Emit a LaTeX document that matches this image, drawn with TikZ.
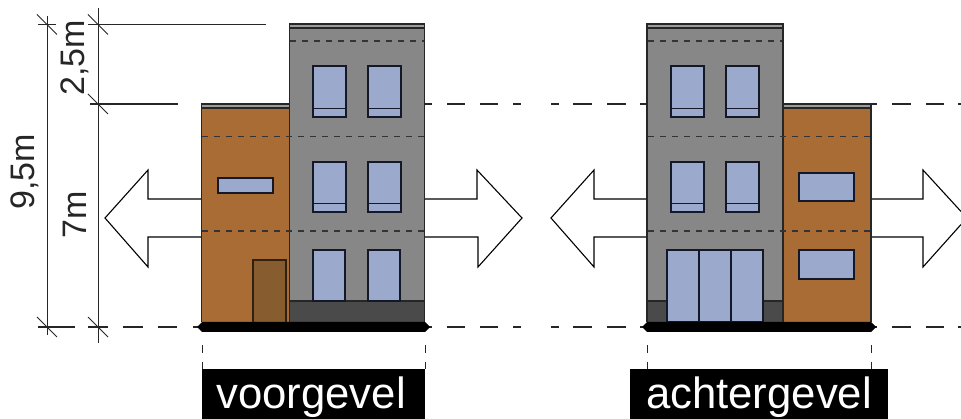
\documentclass[tikz,border=0pt]{standalone}
\usepackage{fontspec}
\setmainfont{Liberation Sans}
\definecolor{wallgray}{HTML}{878787}
\definecolor{wallbrown}{HTML}{A86C34}
\definecolor{glass}{HTML}{9AA9CC}
\definecolor{basegray}{HTML}{4A4A4A}
\definecolor{doorbrown}{HTML}{875C2F}
\definecolor{capgray}{HTML}{9C9C9C}
\definecolor{inkblue}{HTML}{141828}
\tikzset{
  wall/.style={draw=black!85,line width=1.1pt},
  pane/.style={draw=inkblue,line width=1.3pt,fill=glass},
  floorline/.style={black!80,line width=1.1pt,dash pattern=on 5.5pt off 6.5pt},
  dimline/.style={black!85,line width=0.9pt},
  axisline/.style={black!85,line width=1.3pt},
  outline/.style={black,line width=1.1pt,line join=miter},
  labelbox/.style={fill=black,text=white,inner sep=0pt,font=\fontsize{43.7}{50}\selectfont,anchor=base},
  dimtext/.style={rotate=90,inner sep=0pt,font=\fontsize{34}{40}\selectfont,text=black!85},
}
\newcommand{\rowpane}[4]{% x1,x2,ytop,ybottom
  \draw[pane] (#1,#3) rectangle (#2,#4);
  \draw[inkblue,line width=1.1pt] (#1,#4-8.5) -- (#2,#4-8.5);
}
\newcommand{\groundbar}[2]{%
  \fill[black] (#1-5,327) -- (#1,322) -- (#2,322) -- (#2+5,327) -- (#2,332) -- (#1,332) -- cycle;
}
\begin{document}
\begin{tikzpicture}[x=1pt,y=-1pt]
\useasboundingbox (0,0) rectangle (961,419);
\fill[white] (0,0) rectangle (961,419);

% axis dashes
\foreach \a/\b in {425/432,447/465,480/498,513/521,551/559,573/592,607/626,640/647,870/877,892/911,926/944,958/961}
  \draw[axisline] (\a,104) -- (\b,104);
\foreach \a/\b in {38/75,88/108,123/143,158/177,193/201,425/432,447/465,480/498,513/521,551/559,573/592,607/626,640/647,870/877,892/911,926/944,958/961}
  \draw[axisline] (\a,327) -- (\b,327);

% dimension lines
\draw[dimline] (47,16) -- (47,335);
\draw[dimline] (98,8) -- (98,343);
\draw[axisline,line width=1.1pt] (38,24.5) -- (56,24.5);
\draw[axisline,line width=1.1pt] (88,24.5) -- (266,24.5);
\draw[axisline,line width=1.1pt] (90,104) -- (178,104);
\foreach \p/\q in {47/24.5,98/24.5,98/104,47/327,98/327}
  \draw[dimline] (\p-10,\q-10) -- (\p+10,\q+10);
\node[dimtext] (d1) at (25,172) {9,5m};
\node[dimtext] (d2) at (75,58) {2,5m};
\node[dimtext] (d3) at (75,215) {7m};

% arrows
\draw[outline] (201.5,199) -- (148,199) -- (148,170) -- (105,218) -- (148,267) -- (148,237) -- (201.5,237);
\draw[outline] (424.5,199) -- (477,199) -- (477,170) -- (522,218) -- (478,267) -- (478,237) -- (424.5,237);
\draw[outline] (647,199) -- (594,199) -- (594,170) -- (551,218) -- (594,267) -- (594,237) -- (647,237);
\draw[outline] (871,199) -- (923,199) -- (923,170) -- (961,211.5);
\draw[outline] (871,237) -- (923,237) -- (923,267) -- (961,224.5);

% left building
\fill[wallbrown] (201.5,108) rectangle (289.5,322);
\fill[capgray] (201.5,104) rectangle (289.5,108);
\fill[wallgray] (289.5,28) rectangle (424.5,322);
\fill[capgray] (289.5,24) rectangle (424.5,28);
\fill[basegray] (289.5,301) rectangle (424.5,322);
\draw[wall] (201.5,322) -- (201.5,104) -- (289.5,104);
\draw[wall] (201.5,108) -- (289.5,108);
\draw[wall] (289.5,322) -- (289.5,24) -- (424.5,24) -- (424.5,322);
\draw[wall,line width=1.3pt] (289.5,28) -- (424.5,28);
\draw[wall] (289.5,301) -- (424.5,301);
\draw[floorline] (290,41) -- (424,41);
\draw[floorline] (202,136.5) -- (424,136.5);
\draw[floorline] (202,231) -- (424,231);
\rowpane{313}{346}{66}{117}\rowpane{368}{401}{66}{117}
\rowpane{313}{346}{162}{212}\rowpane{368}{401}{162}{212}
\draw[pane] (313,250) -- (313,301) -- (345,301) -- (345,250) -- cycle;
\draw[pane] (368,250) -- (368,301) -- (400,301) -- (400,250) -- cycle;
\draw[pane] (218,178) rectangle (273,193);
\draw[draw=black!75!brown,line width=1.3pt,fill=doorbrown] (253,322) -- (253,260) -- (286,260) -- (286,322);
\groundbar{202}{425}

% right building
\fill[wallgray] (647,28) rectangle (783,322);
\fill[capgray] (647,24) rectangle (783,28);
\fill[wallbrown] (783,108) rectangle (871,322);
\fill[capgray] (783,104) rectangle (871,108);
\fill[basegray] (647,301) rectangle (783,322);
\draw[wall] (647,322) -- (647,24) -- (783,24) -- (783,322);
\draw[wall,line width=1.3pt] (647,28) -- (783,28);
\draw[wall] (647,301) -- (783,301);
\draw[wall] (783,104) -- (871,104) -- (871,322);
\draw[wall] (783,108) -- (871,108);
\draw[floorline] (648,41) -- (782,41);
\draw[floorline] (648,136.5) -- (870,136.5);
\draw[floorline] (648,231) -- (870,231);
\rowpane{671}{704}{66}{117}\rowpane{726}{759}{66}{117}
\rowpane{671}{704}{162}{212}\rowpane{726}{759}{162}{212}
\draw[pane] (667,250) rectangle (763,322);
\draw[inkblue,line width=1.3pt] (699,250) -- (699,322) (731,250) -- (731,322);
\draw[pane] (799,173) rectangle (854,201);
\draw[pane] (799,250) rectangle (854,279);
\groundbar{647}{871}

% drop lines to labels
\foreach \a in {202,425,647,871}{
  \draw[black!85,line width=1pt] (\a,345) -- (\a,353) (\a,362) -- (\a,369);
}

% labels
\fill[black] (202,369) rectangle (425,419);
\fill[black] (630,369) rectangle (888,419);
\node[labelbox] (voor) at (311,408) {voorgevel};
\node[labelbox] (achter) at (759,408) {achtergevel};
\end{tikzpicture}
\end{document}
